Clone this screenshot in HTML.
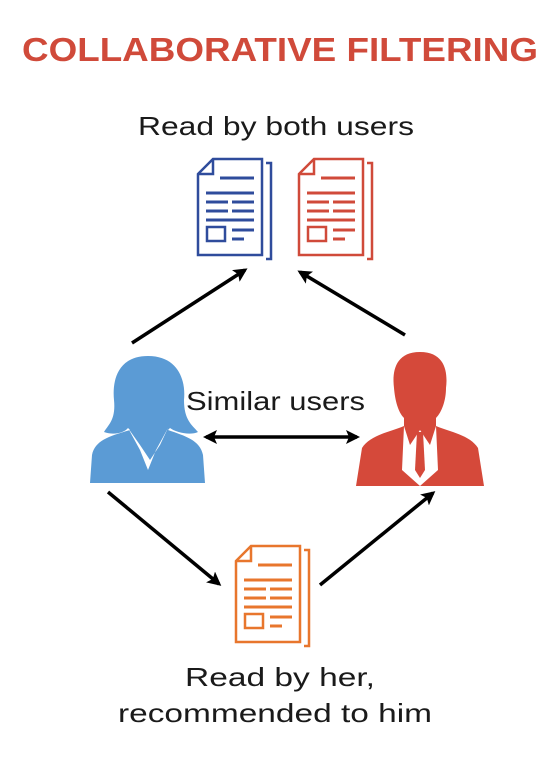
<!DOCTYPE html>
<html><head><style>
body{margin:0;width:541px;height:761px;background:#fff;overflow:hidden}
</style></head><body>
<svg width="541" height="761" xmlns="http://www.w3.org/2000/svg" style="font-family:'Liberation Sans',sans-serif">
<defs>
<marker id="a" markerWidth="14" markerHeight="14" refX="11" refY="7" orient="auto" markerUnits="userSpaceOnUse" viewBox="0 0 14 14">
<path d="M0,0 L14,7 L0,14 L3,7 z" fill="#000"/></marker>
<marker id="as" markerWidth="14" markerHeight="14" refX="3" refY="7" orient="auto" markerUnits="userSpaceOnUse" viewBox="0 0 14 14">
<path d="M14,0 L0,7 L14,14 L11,7 z" fill="#000"/></marker>
<g id="doc">
<path d="M17,2 H66 V98 H2 V17 Z" fill="#fff" stroke="currentColor" stroke-width="2.5"/>
<path d="M2,17 H17 V2" fill="none" stroke="currentColor" stroke-width="2.5"/>
<path d="M70,6 H75 V102 H70" fill="none" stroke="currentColor" stroke-width="2.5"/>
<g stroke="currentColor" stroke-width="3">
<line x1="24" y1="21" x2="58" y2="21"/>
<line x1="10" y1="36" x2="58" y2="36"/>
<line x1="10" y1="45" x2="32" y2="45"/><line x1="36" y1="45" x2="58" y2="45"/>
<line x1="10" y1="54" x2="32" y2="54"/><line x1="36" y1="54" x2="58" y2="54"/>
<line x1="10" y1="63" x2="58" y2="63"/>
<line x1="36" y1="73" x2="58" y2="73"/><line x1="36" y1="82" x2="48" y2="82"/>
</g>
<rect x="11" y="70" width="18" height="14" fill="none" stroke="currentColor" stroke-width="2.5"/>
</g>
</defs>
<text x="22" y="61" font-size="33" font-weight="bold" fill="#d04a3a" textLength="516" lengthAdjust="spacingAndGlyphs">COLLABORATIVE FILTERING</text>
<text x="138" y="135" font-size="26" fill="#1a1a1a" textLength="276" lengthAdjust="spacingAndGlyphs">Read by both users</text>
<use href="#doc" x="196" y="157" style="color:#2f4c9c"/>
<use href="#doc" x="297" y="157" style="color:#d04a3a"/>
<use href="#doc" x="234" y="544" style="color:#e8762d"/>
<g stroke="#000" stroke-width="3.5">
<line x1="132" y1="343" x2="245" y2="270" marker-end="url(#a)"/>
<line x1="405" y1="335" x2="300" y2="272" marker-end="url(#a)"/>
<line x1="206" y1="437" x2="357" y2="437" marker-end="url(#a)" marker-start="url(#as)"/>
<line x1="108" y1="492" x2="219" y2="584" marker-end="url(#a)"/>
<line x1="320" y1="585" x2="433" y2="493" marker-end="url(#a)"/>
</g>
<text x="186" y="410" font-size="26" fill="#1a1a1a" textLength="179" lengthAdjust="spacingAndGlyphs">Similar users</text>
<g fill="#5b9bd5">
<path d="M148,356 C118,356 112,380 114,400 C116,420 108,425 104,432 C115,436 125,432 128,428 L130,430 C110,436 95,440 92,455 L90,483 L205,483 L203,455 C200,440 185,436 168,430 L170,428 C175,432 190,436 198,432 C192,425 184,420 184,400 C186,380 178,356 148,356 Z"/>
</g>
<path d="M128,428 L140,450 L148,470 L156,450 L168,428 L160,445 L150,460 L140,445 Z" fill="#fff"/>
<path d="M420,352 C395,352 392,372 394,388 C395,400 398,412 404,418 L404,426 C390,432 370,435 362,448 L356,486 L484,486 L478,448 C470,435 450,432 436,426 L436,418 C442,412 446,400 446,388 C448,372 445,352 420,352 Z" fill="#d5493a"/>
<path d="M404,426 L410,445 L420,430 L430,445 L436,426 L438,470 L420,486 L402,470 Z" fill="#fff"/>
<path d="M417,432 L423,432 L425,470 L420,478 L415,470 Z" fill="#d5493a"/>
<text x="185" y="686" font-size="26" fill="#1a1a1a" textLength="190" lengthAdjust="spacingAndGlyphs">Read by her,</text>
<text x="118" y="722" font-size="26" fill="#1a1a1a" textLength="314" lengthAdjust="spacingAndGlyphs">recommended to him</text>
</svg>
</body></html>
